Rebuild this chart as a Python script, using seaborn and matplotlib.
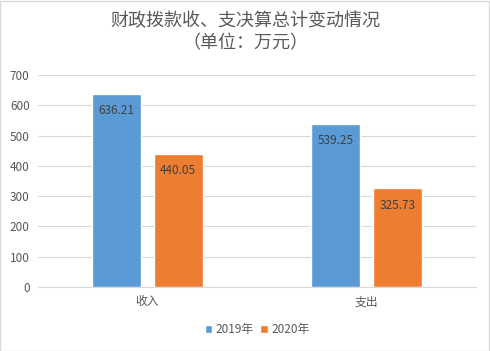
import pandas as pd
import matplotlib.pyplot as plt
import seaborn as sns
from matplotlib.patches import Rectangle

categories = ['收入', '支出']
years = ['2019年', '2020年']
values_2019 = [636.21, 539.25]
values_2020 = [440.05, 325.73]
yticks = [0, 100, 200, 300, 400, 500, 600, 700]

df = pd.DataFrame({
    'category': categories * 2,
    'year': [years[0]] * 2 + [years[1]] * 2,
    'value': values_2019 + values_2020,
})

sns.set_style('white')
plt.rcParams['font.family'] = ['Noto Sans CJK SC', 'DejaVu Sans']

W, H = 490, 351
fig = plt.figure(figsize=(W / 100, H / 100), dpi=100)
ax = fig.add_axes([38 / W, (H - 287) / H, 438 / W, 212 / H])

sns.barplot(data=df, x='category', y='value', hue='year', order=categories,
            hue_order=years, palette=['#5b9bd5', '#ed7d31'], width=0.56,
            gap=0.2, saturation=1, ax=ax, legend=True)

for cont in ax.containers:
    for bar in cont:
        h = bar.get_height()
        ax.annotate(f'{h:.2f}', (bar.get_x() + bar.get_width() / 2, h),
                    xytext=(0, -12), textcoords='offset points',
                    ha='center', va='center', fontsize=8.5, color='#404040')

ax.set_ylim(0, 700)
ax.set_yticks(yticks)
ax.set_xlim(-0.5, 1.5)
ax.grid(axis='y', color='#d9d9d9', linewidth=0.8)
ax.set_axisbelow(True)
for s in ['top', 'right', 'left']:
    ax.spines[s].set_visible(False)
ax.spines['bottom'].set_color('#d9d9d9')
ax.tick_params(axis='both', length=0, labelsize=8.5, colors='#595959', pad=6)
ax.set_xlabel('')
ax.set_ylabel('')

leg = ax.legend(loc='upper center', bbox_to_anchor=(0.5, -0.12), ncol=2,
                frameon=False, fontsize=8.5, handlelength=0.6, handleheight=0.6,
                handletextpad=0.3, columnspacing=0.6)
for t in leg.get_texts():
    t.set_color('#595959')

fig.text(0.5, 1 - 21 / H, '财政拨款收、支决算总计变动情况', ha='center', va='center',
         fontsize=13, color='#595959')
fig.text(0.5, 1 - 43 / H, '（单位：万元）', ha='center', va='center',
         fontsize=13, color='#595959')

fig.patches.append(Rectangle((0.001, 0.001), 0.997, 0.997, transform=fig.transFigure,
                             fill=False, edgecolor='#d9d9d9', linewidth=1))

fig.savefig('out.png', dpi=100)
